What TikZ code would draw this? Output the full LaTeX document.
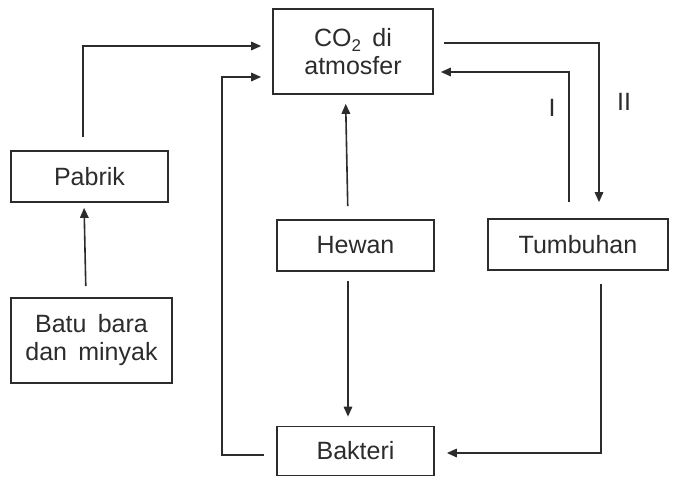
\documentclass[tikz,border=0pt]{standalone}
\usepackage{fontspec}
\setmainfont{Liberation Sans}
\usetikzlibrary{arrows.meta}
\definecolor{ink}{HTML}{2C2C2C}
\begin{document}
\begin{tikzpicture}[x=1pt,y=-1pt,
  box/.style={draw=ink,line width=1.7pt,rectangle,inner sep=0pt,align=center,text=ink,
    font=\fontsize{25}{28}\selectfont},
  arr/.style={draw=ink,line width=1.6pt,-{Triangle[length=10pt,width=8.5pt]}},
  lbl/.style={text=ink,font=\fontsize{25}{28}\selectfont,inner sep=0pt}]
\fill[white] (0,0) rectangle (684,478);
\useasboundingbox (0,0) rectangle (684,478);

\node[box,minimum width=160pt,minimum height=85pt] (co2) at (353,51.5)
  {CO\raisebox{-0.22em}{\smash{\fontsize{17}{17}\selectfont 2}}\hspace{0.45em}di\\atmosfer};
\node[box,minimum width=157pt,minimum height=51pt] (pabrik) at (89.5,176.5) {Pabrik};
\node[box,minimum width=161pt,minimum height=85pt] (batu) at (91.5,340.5)
  {Batu\hspace{0.45em}bara\\dan\hspace{0.45em}minyak};
\node[box,minimum width=157pt,minimum height=51pt] (hewan) at (355.5,245.5) {Hewan};
\node[box,minimum width=180pt,minimum height=51pt] (tumbuhan) at (578,244.5) {Tumbuhan};
\node[box,minimum width=157pt,minimum height=49pt] (bakteri) at (355.5,451) {Bakteri};

\node[lbl] (lI) at (552,108) {I};
\node[lbl] (lII) at (624,102) {II};

\coordinate (bl) at (222,77);

% Pabrik -> CO2
\draw[arr,shorten <=13pt,shorten >=11pt] ([xshift=-6.5pt]pabrik.north) |- ([yshift=5.5pt]co2.west);
% Batu bara -> Pabrik
\draw[arr,shorten <=11pt,shorten >=5pt] ([xshift=-5.5pt]batu.north) -- ([xshift=-5.5pt]pabrik.south);
% Bakteri -> CO2
\draw[arr,shorten <=12pt,shorten >=11pt] ([yshift=-4pt]bakteri.west) -| (bl) -- ([yshift=-25.5pt]co2.west);
% Hewan -> CO2
\draw[arr,shorten <=13pt,shorten >=9pt] ([xshift=-7.5pt]hewan.north) -- ([xshift=-7.5pt]co2.south);
% Hewan -> Bakteri
\draw[arr,shorten <=9pt,shorten >=9pt] ([xshift=-7.5pt]hewan.south) -- ([xshift=-7.5pt]bakteri.north);
% CO2 -> Tumbuhan (II)
\draw[arr,shorten <=10pt,shorten >=16pt] ([yshift=8.5pt]co2.east) -| ([xshift=21pt]tumbuhan.north);
% Tumbuhan -> CO2 (I)
\draw[arr,shorten <=16pt,shorten >=7pt] ([xshift=-9pt]tumbuhan.north) |- ([yshift=-20.5pt]co2.east);
% Tumbuhan -> Bakteri
\draw[arr,shorten <=13pt,shorten >=12pt] ([xshift=23pt]tumbuhan.south) |- ([yshift=-2pt]bakteri.east);
\end{tikzpicture}
\end{document}
